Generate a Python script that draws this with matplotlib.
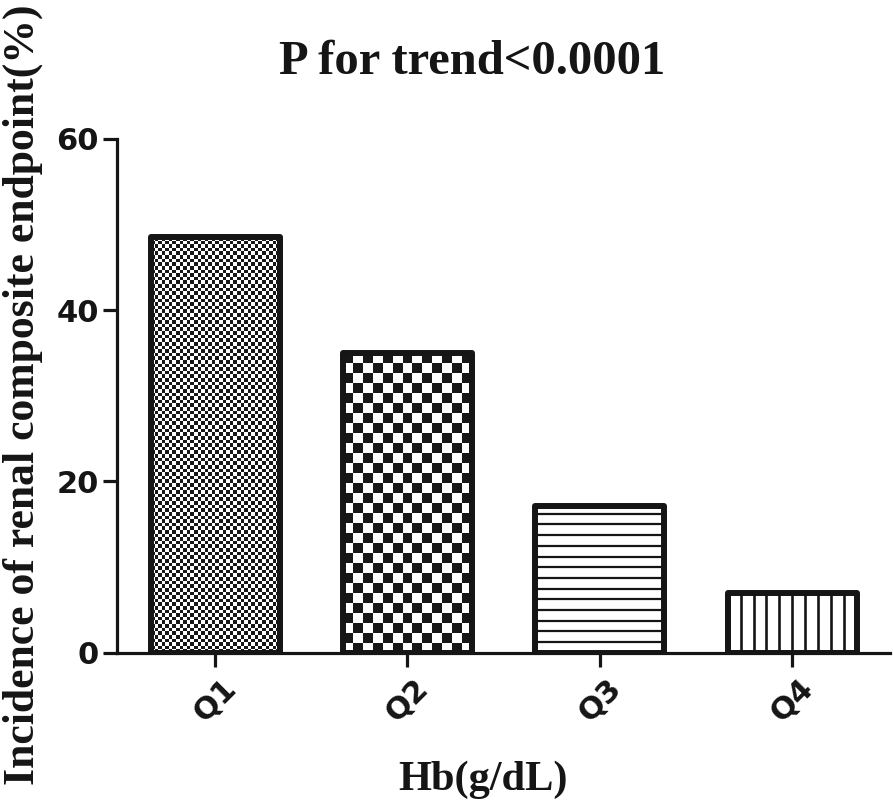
import numpy as np
import matplotlib.pyplot as plt

grupos = ["Q1", "Q2", "Q3", "Q4"]
incidencia = [48.5, 35.0, 17.1, 7.0]
ticks_y = [0, 20, 40, 60]
titulo = "P for trend<0.0001"
etiqueta_x = "Hb(g/dL)"
etiqueta_y = "Incidence of renal composite endpoint(%)"

# tipo de relleno de cada barra y tamaño del patrón en pixeles
rellenos = [("cuadros", 3.6), ("cuadros", 10.0), ("horizontal", 10.7), ("vertical", 13.0)]

negro = "#151515"
serif = "Liberation Serif"
sans = "DejaVu Sans"

fig = plt.figure(figsize=(8.93, 8.06), dpi=100)
ax = fig.add_axes([0.131, 0.19, 0.866, 0.638])
x = np.arange(len(grupos))
barras = ax.bar(x, incidencia, width=0.67, facecolor="none", edgecolor=negro,
                linewidth=4.3, zorder=3)
for b in barras:
    b.set_joinstyle("round")

ax.set_xlim(-0.51, 3.51)
ax.set_ylim(0, 60)
fig.canvas.draw()

# escala pixeles por unidad de datos
px_x = ax.bbox.width / (ax.get_xlim()[1] - ax.get_xlim()[0])
px_y = ax.bbox.height / (ax.get_ylim()[1] - ax.get_ylim()[0])

for b, (tipo, paso) in zip(barras, rellenos):
    x0, y0 = b.get_x(), b.get_y()
    w, h = b.get_width(), b.get_height()
    if tipo == "cuadros":
        nc = int(round(w * px_x / paso))
        nf = int(round(h * px_y / paso))
        ii, jj = np.indices((nf, nc))
        patron = (ii + jj) % 2
        im = ax.imshow(patron, extent=(x0, x0 + w, y0, y0 + h), cmap="gray_r",
                       vmin=0, vmax=1.1, interpolation="nearest", aspect="auto",
                       origin="lower", zorder=2)
        im.set_clip_path(b)
    elif tipo == "horizontal":
        ys = np.arange(y0, y0 + h, paso / px_y)[1:]
        lc = ax.hlines(ys, x0, x0 + w, color=negro, linewidth=1.6, zorder=2)
        lc.set_clip_path(b)
    else:
        n = int(round(w * px_x / paso))
        xs = np.linspace(x0, x0 + w, n + 1)[1:-1]
        lc = ax.vlines(xs, y0, y0 + h, color=negro, linewidth=1.9, zorder=2)
        lc.set_clip_path(b)

ax.set_xlim(-0.51, 3.51)
ax.set_ylim(0, 60)

for lado in ["top", "right"]:
    ax.spines[lado].set_visible(False)
for lado in ["left", "bottom"]:
    ax.spines[lado].set_linewidth(2.3)
    ax.spines[lado].set_color(negro)

ax.set_xticks(x)
ax.set_xticklabels(grupos, rotation=45, ha="center", fontfamily=sans,
                   fontweight="bold", fontsize=22)
ax.set_yticks(ticks_y)
ax.set_yticklabels([str(t) for t in ticks_y], fontfamily=sans,
                   fontweight="bold", fontsize=22)
ax.tick_params(axis="both", length=10, width=2.3, color=negro, labelcolor=negro)
ax.tick_params(axis="x", pad=5)
ax.tick_params(axis="y", pad=3)

ax.set_ylabel(etiqueta_y, fontfamily=serif, fontweight="bold", fontsize=31.5,
              color=negro, va="center")
ax.yaxis.set_label_coords(-0.122, 0.502)
fig.text(483 / 893, 1 - 780 / 806, etiqueta_x, fontfamily=serif, fontweight="bold",
         fontsize=30.5, color=negro, ha="center", va="center")
fig.text(472 / 893, 1 - 62 / 806, titulo, fontfamily=serif, fontweight="bold",
         fontsize=35, color=negro, ha="center", va="center")

fig.savefig("out.png", dpi=100)
